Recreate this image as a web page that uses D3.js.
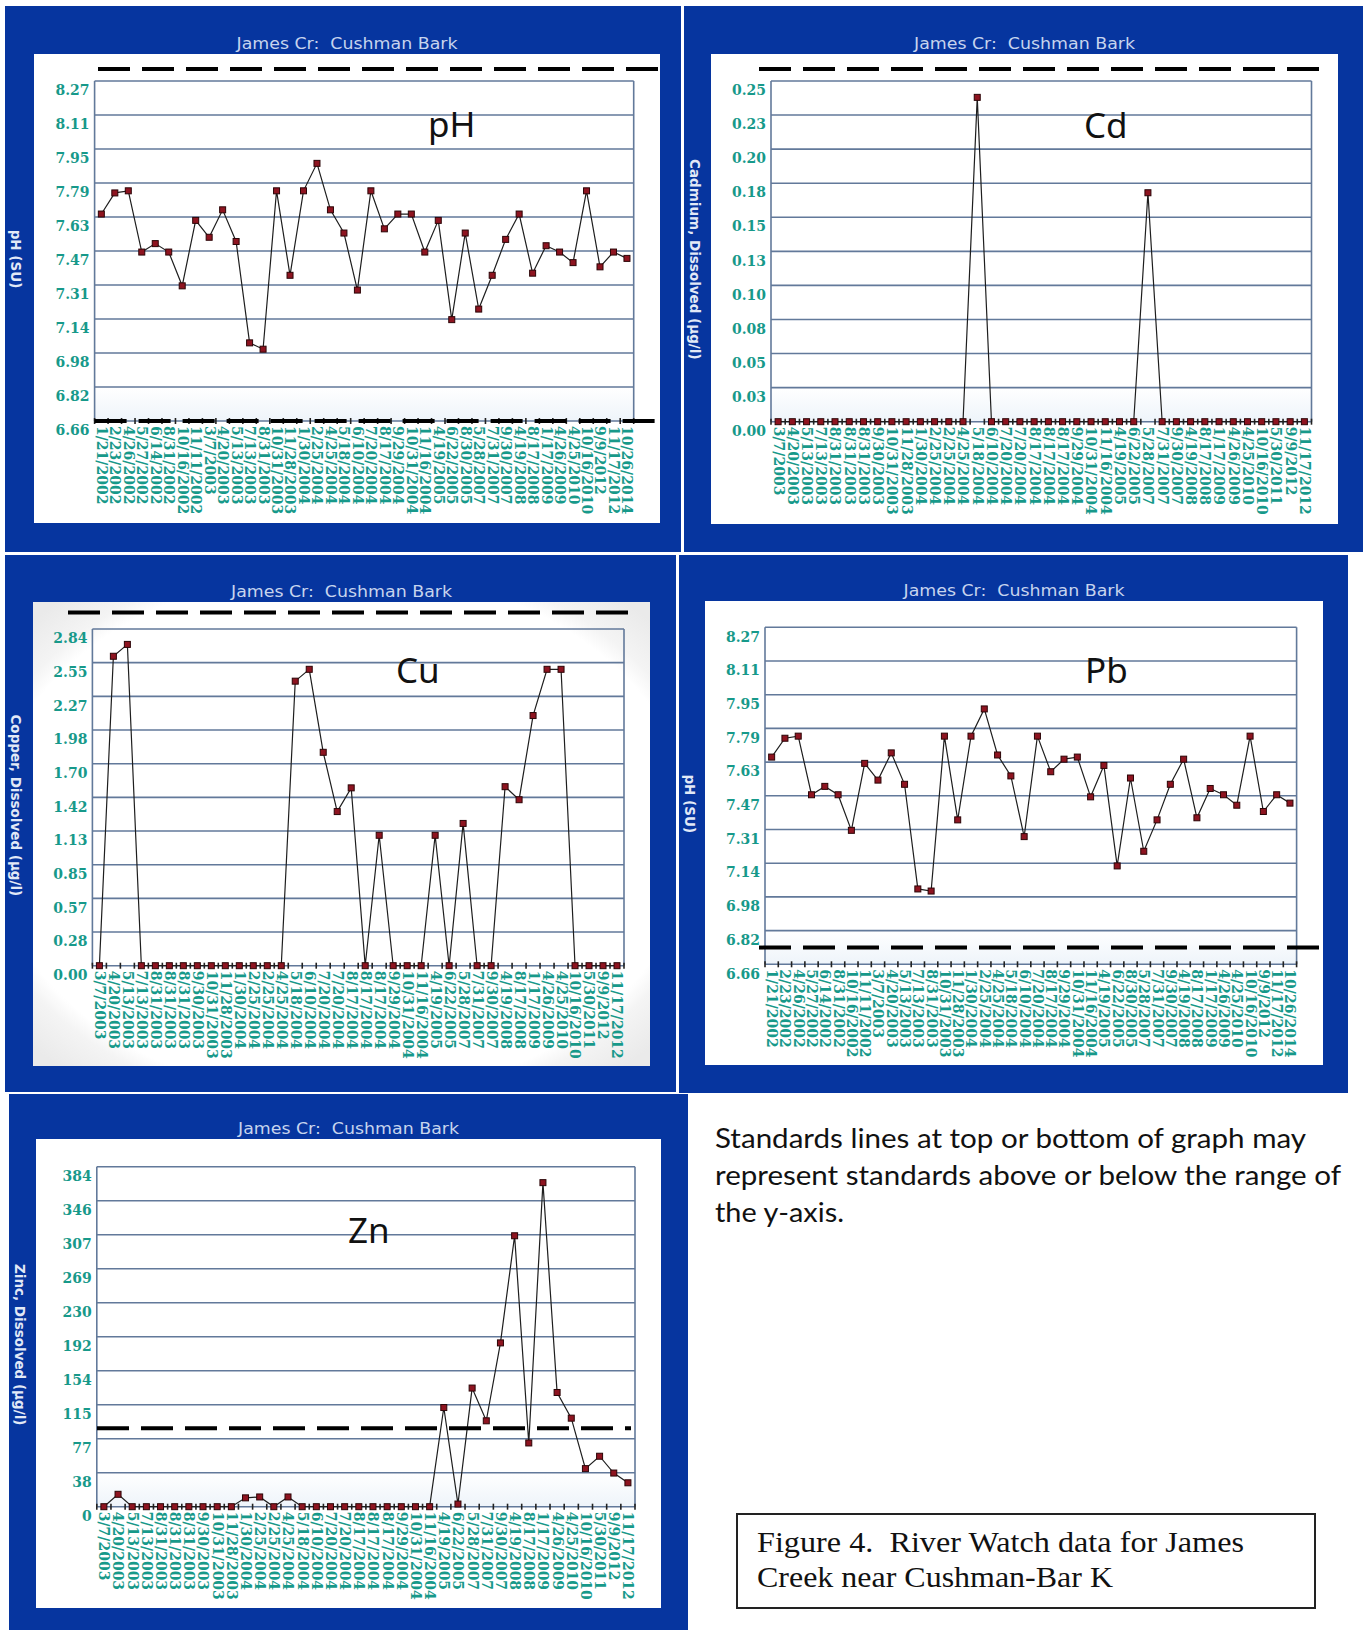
<!DOCTYPE html>
<html>
<head>
<meta charset="utf-8">
<script src="https://cdn.jsdelivr.net/npm/d3@7"></script>
<style>
  html, body { margin: 0; padding: 0; background: #ffffff; }
  svg { display: block; }
</style>
</head>
<body>
<svg id="fig" width="1371" height="1630"></svg>
<script>
// ---------- data ----------
const siteTitle = "James Cr:  Cushman Bark";

// pH sampling dates and readings (SU)
const phDates = ["1/21/2002","2/23/2002","4/26/2002","5/27/2002","6/14/2002","8/31/2002","10/16/2002","11/11/2002",
  "3/7/2003","4/20/2003","5/13/2003","7/13/2003","8/31/2003","10/31/2003","11/28/2003",
  "1/30/2004","2/25/2004","4/25/2004","5/18/2004","6/10/2004","7/20/2004","8/17/2004","9/29/2004","10/31/2004","11/16/2004",
  "4/19/2005","6/22/2005","8/30/2005","5/28/2007","7/31/2007","9/30/2007","4/19/2008","8/17/2008",
  "1/17/2009","4/26/2009","4/25/2010","10/16/2010","9/9/2012","11/17/2012","10/26/2014"];
const phValues = [7.64, 7.74, 7.75, 7.46, 7.50, 7.46, 7.30, 7.61, 7.53, 7.66, 7.51, 7.03, 7.00, 7.75, 7.35,
  7.75, 7.88, 7.66, 7.55, 7.28, 7.75, 7.57, 7.64, 7.64, 7.46, 7.61, 7.14, 7.55, 7.19, 7.35,
  7.52, 7.64, 7.36, 7.49, 7.46, 7.41, 7.75, 7.39, 7.46, 7.43];
const phTickLabels = ["6.66","6.82","6.98","7.14","7.31","7.47","7.63","7.79","7.95","8.11","8.27"];
const phDomain = [6.66, 8.27];
const phStandardLines = [8.327, 6.66];

// dissolved metals sampling dates
const metalDates = ["3/7/2003","4/20/2003","5/13/2003","7/13/2003","8/31/2003","8/31/2003","8/31/2003","9/30/2003",
  "10/31/2003","11/28/2003","1/30/2004","2/25/2004","2/25/2004","4/25/2004","5/18/2004","6/10/2004",
  "7/20/2004","7/20/2004","8/17/2004","8/17/2004","8/17/2004","9/29/2004","10/31/2004","11/16/2004",
  "4/19/2005","6/22/2005","5/28/2007","7/31/2007","9/30/2007","4/19/2008","8/17/2008","1/17/2009",
  "4/26/2009","4/25/2010","10/16/2010","5/30/2011","9/9/2012","11/17/2012"];

// cadmium, dissolved (ug/l)
const cdValues = [0,0,0,0,0,0,0,0,0,0,0,0,0,0,0.238,0,0,0,0,0,0,0,0,0,0,0,0.168,0,0,0,0,0,0,0,0,0,0,0];
const cdTickLabels = ["0.00","0.03","0.05","0.08","0.10","0.13","0.15","0.18","0.20","0.23","0.25"];
const cdDomain = [0, 0.25];
const cdStandardLines = [0.2588];

// copper, dissolved (ug/l)
const cuValues = [0, 2.61, 2.71, 0, 0, 0, 0, 0, 0, 0, 0, 0, 0, 0, 2.40, 2.50, 1.80, 1.30, 1.50, 0,
  1.10, 0, 0, 0, 1.10, 0, 1.20, 0, 0, 1.51, 1.40, 2.11, 2.50, 2.50, 0, 0, 0, 0];
const cuTickLabels = ["0.00","0.28","0.57","0.85","1.13","1.42","1.70","1.98","2.27","2.55","2.84"];
const cuDomain = [0, 2.84];
const cuStandardLines = [2.98];

// lead panel (plotted on the pH scale)
const pbDates = phDates;
const pbValues = [7.65, 7.74, 7.75, 7.47, 7.51, 7.47, 7.30, 7.62, 7.54, 7.67, 7.52, 7.02, 7.01, 7.75, 7.35,
  7.75, 7.88, 7.66, 7.56, 7.27, 7.75, 7.58, 7.64, 7.65, 7.46, 7.61, 7.13, 7.55, 7.20, 7.35,
  7.52, 7.64, 7.36, 7.50, 7.47, 7.42, 7.75, 7.39, 7.47, 7.43];
const pbTickLabels = phTickLabels;
const pbDomain = [6.66, 8.27];
const pbStandardLines = [6.74];

// zinc, dissolved (ug/l)
const znValues = [0, 14, 0, 0, 0, 0, 0, 0, 0, 0, 10, 11, 0, 11, 0, 0, 0, 0, 0, 0, 0, 0, 0, 0,
  112, 3, 134, 97, 185, 306, 72, 366, 129, 100, 43, 57, 38, 27];
const znTickLabels = ["0","38","77","115","154","192","230","269","307","346","384"];
const znDomain = [0, 384];
const znStandardLines = [88.5];

const noteLines = ["Standards lines at top or bottom of graph may",
  "represent standards above or below the range of",
  "the y-axis."];
const captionLines = ["Figure 4.  River Watch data for James", "Creek near Cushman-Bar K"];

// ---------- styling ----------
const BLUE = "#06359f";
const TEAL = "#17998a";
const GRID = "#62799a";
const TICK_FONT = "'DejaVu Serif', serif";

const svg = d3.select("#fig");
const defs = svg.append("defs");

const fade = defs.append("linearGradient").attr("id", "plotFade")
  .attr("x1", 0).attr("y1", 0).attr("x2", 0).attr("y2", 1);
fade.append("stop").attr("offset", "0.9").attr("stop-color", "#ffffff");
fade.append("stop").attr("offset", "1").attr("stop-color", "#eef4fa");

const glow = defs.append("radialGradient").attr("id", "cardGlow")
  .attr("cx", "0.5").attr("cy", "0.5").attr("r", "0.68");
glow.append("stop").attr("offset", "0").attr("stop-color", "#ffffff");
glow.append("stop").attr("offset", "0.84").attr("stop-color", "#ffffff");
glow.append("stop").attr("offset", "0.89").attr("stop-color", "#f4f4f4");
glow.append("stop").attr("offset", "1").attr("stop-color", "#eaeaea");

// ---------- panel layout ----------
const panels = [
  { frame: [5, 6, 681, 552], card: [34, 54, 660, 523], plot: [94.6, 81, 633.7, 421],
    dates: phDates, values: phValues, domain: phDomain, ticks: phTickLabels,
    yTitle: "pH (SU)", tag: "pH", tagPos: [428, 137],
    standards: phStandardLines, stdSpan: [[98, 658], [94.6, 656]] },
  { frame: [684, 6, 1363, 552], card: [711, 54, 1338, 524], plot: [771, 81, 1311.5, 421.7],
    dates: metalDates, values: cdValues, domain: cdDomain, ticks: cdTickLabels,
    yTitle: "Cadmium, Dissolved (\u00b5g/l)", tag: "Cd", tagPos: [1084, 138],
    standards: cdStandardLines, stdSpan: [[759, 1320]] },
  { frame: [5, 555, 676, 1092], card: [33, 602, 650, 1066], plot: [92.4, 629, 624, 965.7],
    dates: metalDates, values: cuValues, domain: cuDomain, ticks: cuTickLabels,
    yTitle: "Copper, Dissolved (\u00b5g/l)", tag: "Cu", tagPos: [396, 683],
    standards: cuStandardLines, stdSpan: [[68, 628]], glow: true },
  { frame: [679, 555, 1348, 1093], card: [705, 601, 1323, 1065], plot: [765, 627.3, 1296.6, 964.3],
    dates: pbDates, values: pbValues, domain: pbDomain, ticks: pbTickLabels,
    yTitle: "pH (SU)", tag: "Pb", tagPos: [1085, 683],
    standards: pbStandardLines, stdSpan: [[759, 1320]] },
  { frame: [9, 1094, 688, 1630], card: [36, 1139, 661, 1608], plot: [96.8, 1166.7, 635, 1506.7],
    dates: metalDates, values: znValues, domain: znDomain, ticks: znTickLabels,
    yTitle: "Zinc, Dissolved (\u00b5g/l)", tag: "Zn", tagPos: [348, 1243],
    standards: znStandardLines, stdSpan: [[97, 631]] }
];

function drawPanel(p) {
  const g = svg.append("g");
  const [fx0, fy0, fx1, fy1] = p.frame;
  const [cx0, cy0, cx1, cy1] = p.card;
  const [px0, py0, px1, py1] = p.plot;

  g.append("rect").attr("x", fx0).attr("y", fy0)
    .attr("width", fx1 - fx0).attr("height", fy1 - fy0).attr("fill", BLUE);

  g.append("rect").attr("x", cx0).attr("y", cy0)
    .attr("width", cx1 - cx0).attr("height", cy1 - cy0)
    .attr("fill", p.glow ? "url(#cardGlow)" : "#ffffff");

  g.append("text")
    .attr("x", (cx0 + cx1) / 2).attr("y", cy0 - 5)
    .attr("text-anchor", "middle")
    .attr("font-family", "'DejaVu Sans', sans-serif")
    .attr("font-size", 16.5)
    .attr("fill", "#c6d4ee")
    .attr("textLength", 221).attr("lengthAdjust", "spacingAndGlyphs")
    .style("white-space", "pre")
    .text(siteTitle);

  // rotated y-axis title
  g.append("text")
    .attr("transform", `translate(${fx0 + 6},${(py0 + py1) / 2 + 8}) rotate(90)`)
    .attr("text-anchor", "middle")
    .attr("font-family", "'DejaVu Sans', sans-serif")
    .attr("font-weight", "bold")
    .attr("font-size", 13.5)
    .attr("fill", "#e2e9f7")
    .text(p.yTitle);

  const x = d3.scalePoint().domain(d3.range(p.dates.length)).range([px0, px1]).padding(0.5);
  const y = d3.scaleLinear().domain(p.domain).range([py1, py0]);
  const step = x.step();
  const tickVals = p.ticks.map((_, i) => p.domain[0] + i * (p.domain[1] - p.domain[0]) / (p.ticks.length - 1));

  if (!p.glow) {
    g.append("rect").attr("x", px0).attr("y", py0)
      .attr("width", px1 - px0).attr("height", py1 - py0).attr("fill", "url(#plotFade)");
  }

  // horizontal grid
  g.append("g").selectAll("line").data(tickVals).join("line")
    .attr("x1", px0).attr("x2", px1)
    .attr("y1", d => y(d)).attr("y2", d => y(d))
    .attr("stroke", GRID).attr("stroke-width", 1.6);
  g.append("line").attr("x1", px0).attr("x2", px0).attr("y1", py0).attr("y2", py1)
    .attr("stroke", GRID).attr("stroke-width", 1.6);
  g.append("line").attr("x1", px1).attr("x2", px1).attr("y1", py0).attr("y2", py1)
    .attr("stroke", GRID).attr("stroke-width", 1.6);

  // y tick labels
  const yAxis = g.append("g").attr("transform", `translate(${px0},0)`)
    .call(d3.axisLeft(y).tickValues(tickVals).tickFormat((d, i) => p.ticks[i]).tickSize(0).tickPadding(5));
  yAxis.select(".domain").remove();
  yAxis.selectAll("text")
    .attr("dy", "0.98em")
    .attr("font-family", TICK_FONT).attr("font-weight", "bold").attr("font-size", 14)
    .attr("fill", TEAL);

  // x date labels, rotated
  const xAxis = g.append("g").attr("transform", `translate(0,${py1})`)
    .call(d3.axisBottom(x).tickFormat(i => p.dates[i]).tickSize(0));
  xAxis.select(".domain").remove();
  xAxis.selectAll("text")
    .attr("y", 0).attr("x", 5).attr("dy", "0.36em")
    .attr("transform", "rotate(90)")
    .attr("text-anchor", "start")
    .attr("font-family", TICK_FONT).attr("font-weight", "bold").attr("font-size", 14)
    .attr("fill", TEAL);

  // small ticks between sampling dates
  g.append("g").selectAll("line").data(d3.range(p.dates.length + 1)).join("line")
    .attr("x1", k => px0 + k * step).attr("x2", k => px0 + k * step)
    .attr("y1", py1 - 3).attr("y2", py1 + 3)
    .attr("stroke", "#222").attr("stroke-width", 1.6);

  // series line and markers
  const line = d3.line().x((d, i) => x(i)).y(d => y(d));
  g.append("path").datum(p.values).attr("d", line)
    .attr("fill", "none").attr("stroke", "#1e1e1e").attr("stroke-width", 1.2);
  g.append("g").selectAll("rect").data(p.values).join("rect")
    .attr("x", (d, i) => x(i) - 3).attr("y", d => y(d) - 3)
    .attr("width", 6).attr("height", 6)
    .attr("fill", "#8e1420").attr("stroke", "#2b0507").attr("stroke-width", 1);

  // standards lines
  p.standards.forEach((v, k) => {
    g.append("line")
      .attr("x1", p.stdSpan[k][0]).attr("x2", p.stdSpan[k][1])
      .attr("y1", y(v)).attr("y2", y(v))
      .attr("stroke", "#000").attr("stroke-width", 4)
      .attr("stroke-dasharray", "32,12");
  });

  // parameter tag
  g.append("text").attr("x", p.tagPos[0]).attr("y", p.tagPos[1])
    .attr("font-family", "'Noto Sans', sans-serif").attr("font-size", 35)
    .attr("fill", "#111").text(p.tag);
}

panels.forEach(drawPanel);

// explanatory note
const noteWidths = [591, 626, 129];
svg.append("g").selectAll("text").data(noteLines).join("text")
  .attr("x", 715).attr("y", (d, i) => 1148 + i * 37)
  .attr("font-family", "Lato, sans-serif").attr("font-size", 26)
  .attr("fill", "#111")
  .attr("textLength", (d, i) => noteWidths[i]).attr("lengthAdjust", "spacingAndGlyphs")
  .text(d => d);

// figure caption box
svg.append("rect").attr("x", 737).attr("y", 1514).attr("width", 578).attr("height", 94)
  .attr("fill", "#fff").attr("stroke", "#222").attr("stroke-width", 2);
const capWidths = [487, 356];
svg.append("g").selectAll("text").data(captionLines).join("text")
  .attr("x", 757).attr("y", (d, i) => 1552 + i * 35)
  .attr("font-family", "'Liberation Serif', serif").attr("font-size", 29)
  .attr("fill", "#111")
  .attr("textLength", (d, i) => capWidths[i]).attr("lengthAdjust", "spacingAndGlyphs")
  .style("white-space", "pre")
  .text(d => d);
</script>
</body>
</html>
